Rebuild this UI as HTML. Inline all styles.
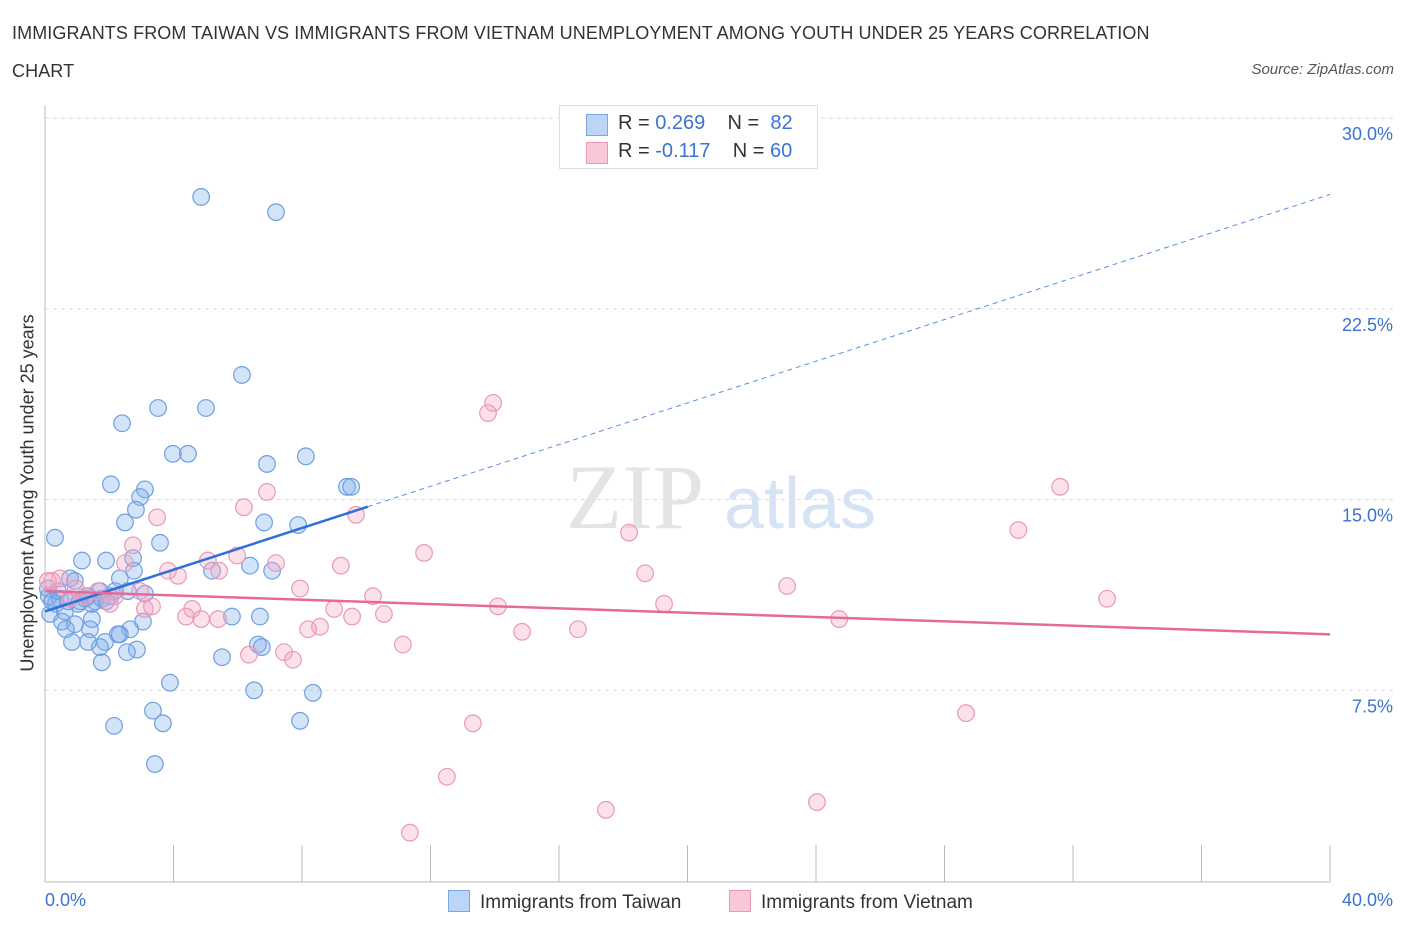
<!DOCTYPE html>
<html><head><meta charset="utf-8"><style>
body{margin:0;background:#fff;font-family:"Liberation Sans",sans-serif;}
#wrap{position:relative;width:1406px;height:930px;overflow:hidden;}
.t{position:absolute;white-space:nowrap;}
</style></head><body><div id="wrap">
<div class="t" style="left:12px;top:14px;font-size:18px;color:#333;line-height:38px;letter-spacing:0.1px">IMMIGRANTS FROM TAIWAN VS IMMIGRANTS FROM VIETNAM UNEMPLOYMENT AMONG YOUTH UNDER 25 YEARS CORRELATION<br>CHART</div>
<div class="t" style="right:12px;top:61px;font-size:15px;font-style:italic;color:#555">Source: ZipAtlas.com</div>
<svg id="chart" width="1406" height="930" style="position:absolute;left:0;top:0"></svg>
</div>
<script>
const taiwanX=[4.86,7.19,6.13,3.52,5.01,2.40,3.98,4.45,6.91,8.12,9.40,9.53,2.05,3.11,2.96,2.83,2.49,6.82,7.88,0.31,3.58,1.15,1.90,2.74,5.20,6.38,7.07,2.77,2.33,0.78,0.93,1.71,2.18,2.58,3.11,0.12,0.47,1.25,1.56,2.02,0.34,0.16,0.62,1.03,1.46,0.53,0.93,1.40,3.05,2.65,2.33,2.27,1.87,1.71,1.34,0.84,2.86,2.55,1.77,5.51,6.63,6.75,5.82,6.69,3.89,6.51,8.34,3.36,3.67,2.15,7.94,3.42,0.09,0.22,0.40,0.72,1.09,1.34,1.77,0.65,1.46,1.90];
const taiwanY=[26.9,26.3,19.9,18.6,18.6,18.0,16.8,16.8,16.4,16.7,15.5,15.5,15.6,15.4,15.1,14.6,14.1,14.1,14.0,13.5,13.3,12.6,12.6,12.7,12.2,12.4,12.2,12.2,11.9,11.9,11.8,11.4,11.4,11.4,11.3,11.2,11.1,11.1,11.0,11.2,10.9,10.5,10.6,10.9,10.3,10.2,10.1,9.9,10.2,9.9,9.7,9.7,9.4,9.2,9.4,9.4,9.1,9.0,8.6,8.8,9.3,9.2,10.4,10.4,7.8,7.5,7.4,6.7,6.2,6.1,6.3,4.6,11.5,11.0,11.4,11.0,11.0,11.2,11.1,9.9,10.9,11.0];
const vietnamX=[13.95,13.79,31.6,30.3,18.18,6.19,6.91,3.49,9.68,11.80,2.74,5.07,5.98,7.19,2.49,4.14,18.68,9.21,3.83,5.42,23.1,7.94,10.21,33.06,1.65,2.18,2.96,0.96,0.47,0.22,14.10,19.27,9.00,10.55,3.11,3.33,4.58,4.39,4.86,5.39,9.56,8.56,8.19,24.72,14.85,16.59,11.14,6.35,7.44,7.72,28.67,13.32,12.51,24.03,17.46,11.36,0.09,2.02,1.25,0.78];
const vietnamY=[18.8,18.4,15.5,13.8,13.7,14.7,15.3,14.3,14.4,12.9,13.2,12.6,12.8,12.5,12.5,12.0,12.1,12.4,12.2,12.2,11.6,11.5,11.2,11.1,11.4,11.2,11.4,11.5,11.9,11.8,10.8,10.9,10.7,10.5,10.7,10.8,10.7,10.4,10.3,10.3,10.4,10.0,9.9,10.3,9.8,9.9,9.3,8.9,9.0,8.7,6.6,6.2,4.1,3.1,2.8,1.9,11.8,10.9,11.2,11.1];
const yTicks=[7.5,15.0,22.5,30.0];
const taiwanTrend=[10.6,27.0];
const vietnamTrend=[11.4,9.7];
const NS="http://www.w3.org/2000/svg";
const svg=document.getElementById('chart');
const X0=45,X1=1330,YB=881,PX=25.43;
const sx=v=>X0+(v/40)*(X1-X0);
const sy=v=>YB-v*PX;
function mk(tag,attrs,parent){const e=document.createElementNS(NS,tag);for(const k in attrs)e.setAttribute(k,attrs[k]);(parent||svg).appendChild(e);return e;}
yTicks.forEach(v=>{
 const g=mk('line',{x1:X0,x2:1395,y1:sy(v),y2:sy(v),stroke:'#dcdcdc','stroke-dasharray':'4,4'});
 
 
 const t=mk('text',{x:1393,y:sy(v)+22,'text-anchor':'end','font-size':18,fill:'#3b73d1','font-family':'Liberation Sans, sans-serif'});
 t.textContent=v.toFixed(1)+'%';
 
 
});
const ax=mk('line',{x1:X0,x2:X0,y1:105,y2:YB+1,stroke:'#bbb'});


const bx=mk('line',{x1:X0,x2:X1,y1:YB+1,y2:YB+1,stroke:'#bbb'});


for(let i=0;i<=10;i++){const tk=mk('line',{x1:sx(i*4),x2:sx(i*4),y1:845,y2:YB+1,stroke:'#bbb'});
 
 }
const wm=mk('text',{x:635,y:528,'text-anchor':'middle','font-size':92,fill:'#e4e4e4','font-family':'Liberation Serif, serif'});wm.textContent='ZIP';


const wm2=mk('text',{x:800,y:528,'text-anchor':'middle','font-size':72,fill:'#d6e3f4','font-family':'Liberation Sans, sans-serif'});wm2.textContent='atlas';


function pts(xs,ys,fill,stroke,name){xs.forEach((x,i)=>{const c=mk('circle',{cx:sx(x),cy:sy(ys[i]),r:8.3,fill:fill,stroke:stroke,'stroke-width':1.2});
 
 });}
pts(taiwanX,taiwanY,'rgba(130,175,235,0.35)','#6f9fe0','taiwan-point');
pts(vietnamX,vietnamY,'rgba(245,165,195,0.35)','#e89ab5','vietnam-point');
const ts=taiwanTrend, slope=(ts[1]-ts[0])/40, xs=10.05;
const l1=mk('line',{x1:sx(0),y1:sy(ts[0]),x2:sx(xs),y2:sy(ts[0]+slope*xs),stroke:'#2f6fd6','stroke-width':2.5});


const l2=mk('line',{x1:sx(xs),y1:sy(ts[0]+slope*xs),x2:sx(40),y2:sy(ts[1]),stroke:'#5a8ee0','stroke-width':1,'stroke-dasharray':'5,4'});


const l3=mk('line',{x1:sx(0),y1:sy(vietnamTrend[0]),x2:sx(40),y2:sy(vietnamTrend[1]),stroke:'#e56a9a','stroke-width':2.5});


</script>
<div class="t" style="left:45px;top:890px;font-size:18px;color:#3b73d1">0.0%</div>
<div class="t" style="right:13px;top:890px;font-size:18px;color:#3b73d1">40.0%</div>
<div class="t" style="left:28px;top:493px;font-size:18px;color:#333;transform:translate(-50%,-50%) rotate(-90deg)">Unemployment Among Youth under 25 years</div>
<div style="position:absolute;left:559px;top:105px;width:257px;height:62px;border:1px solid #ddd;background:#fff;font-size:20px;color:#333">
 <div style="position:absolute;left:26px;top:8px;width:20px;height:20px;background:#bcd4f5;border:1px solid #7aa7e6"></div>
 <div class="t" style="left:58px;top:6px">R = <span style="color:#3b73d1">0.269</span>&nbsp;&nbsp;&nbsp; N = &nbsp;<span style="color:#3b73d1">82</span></div>
 <div style="position:absolute;left:26px;top:36px;width:20px;height:20px;background:#f9c8d7;border:1px solid #e89ab5"></div>
 <div class="t" style="left:58px;top:34px">R = <span style="color:#3b73d1">-0.117</span>&nbsp;&nbsp;&nbsp; N = <span style="color:#3b73d1">60</span></div>
</div>
<div style="position:absolute;left:448px;top:890px;font-size:19px;color:#333">
 <span style="display:inline-block;width:20px;height:20px;background:#bcd4f5;border:1px solid #7aa7e6;vertical-align:-4px;margin-right:10px"></span>Immigrants from Taiwan</div>
<div style="position:absolute;left:729px;top:890px;font-size:19px;color:#333">
 <span style="display:inline-block;width:20px;height:20px;background:#f9c8d7;border:1px solid #e89ab5;vertical-align:-4px;margin-right:10px"></span>Immigrants from Vietnam</div>
</body></html>
